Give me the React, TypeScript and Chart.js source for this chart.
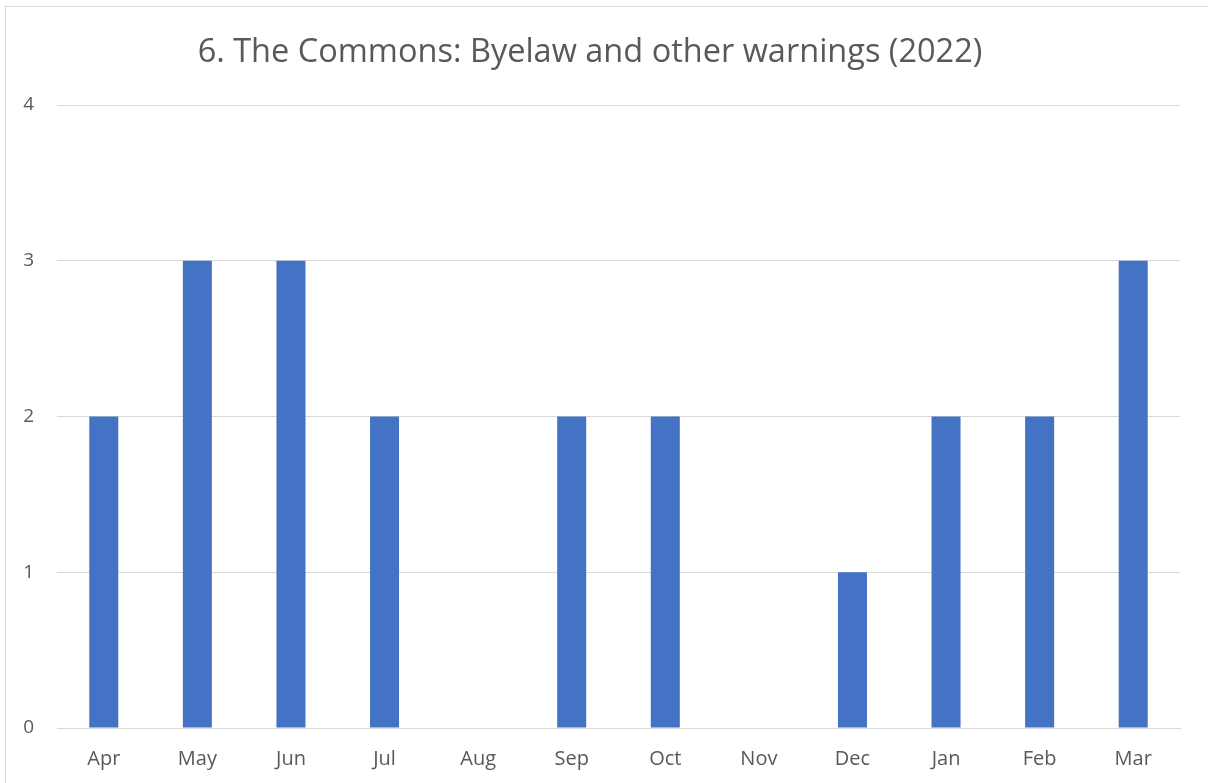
import React, { useEffect, useRef } from "react";
import { Chart, registerables } from "chart.js";

Chart.register(...registerables);

const months = ["Apr", "May", "Jun", "Jul", "Aug", "Sep", "Oct", "Nov", "Dec", "Jan", "Feb", "Mar"];
const warnings = [2, 3, 3, 2, 0, 2, 2, 0, 1, 2, 2, 3];
const titleText = "6. The Commons: Byelaw and other warnings (2022)";
const FONT = "'Open Sans', 'Noto Sans', sans-serif";

export default function App() {
  const ref = useRef<HTMLCanvasElement | null>(null);
  useEffect(() => {
    if (!ref.current) return;
    const chart = new Chart(ref.current, {
      type: "bar",
      data: {
        labels: months,
        datasets: [
          {
            data: warnings,
            backgroundColor: "#4472C4",
            barPercentage: 0.31,
            categoryPercentage: 1,
          },
        ],
      },
      options: {
        responsive: false,
        animation: false,
        layout: { padding: { left: 0, right: 28, top: 0, bottom: 0 } },
        plugins: {
          legend: { display: false },
          tooltip: { enabled: false },
          title: {
            display: true,
            text: titleText,
            color: "#595959",
            font: { family: FONT, size: 32.5, weight: "normal", lineHeight: 1.2 },
            padding: { top: 33, bottom: 33 },
          },
        },
        scales: {
          x: {
            grid: { display: false },
            border: { display: true, color: "#d9d9d9", width: 1 },
            ticks: { color: "#595959", font: { family: FONT, size: 20 }, padding: 11 },
            afterFit: (s: any) => { s.height = 55; },
          },
          y: {
            min: 0,
            max: 4,
            ticks: { stepSize: 1, color: "#595959", font: { family: FONT, size: 19 }, crossAlign: "near", padding: 23 },
            grid: { color: "#d9d9d9", lineWidth: 1, drawTicks: false },
            border: { display: false },
            afterFit: (s: any) => { s.width = 57; },
          },
        },
      },
    });
    return () => chart.destroy();
  }, []);
  return (
    <div style={{ position: "fixed", left: 0, top: 0, width: 1208, height: 783, background: "#fff" }}>
      <div style={{ position: "absolute", left: 5, top: 6, width: 1210, height: 790, border: "1px solid #d9d9d9", boxSizing: "border-box" }} />
      <canvas ref={ref} width={1208} height={783} style={{ position: "absolute", left: 0, top: 0 }} />
    </div>
  );
}
